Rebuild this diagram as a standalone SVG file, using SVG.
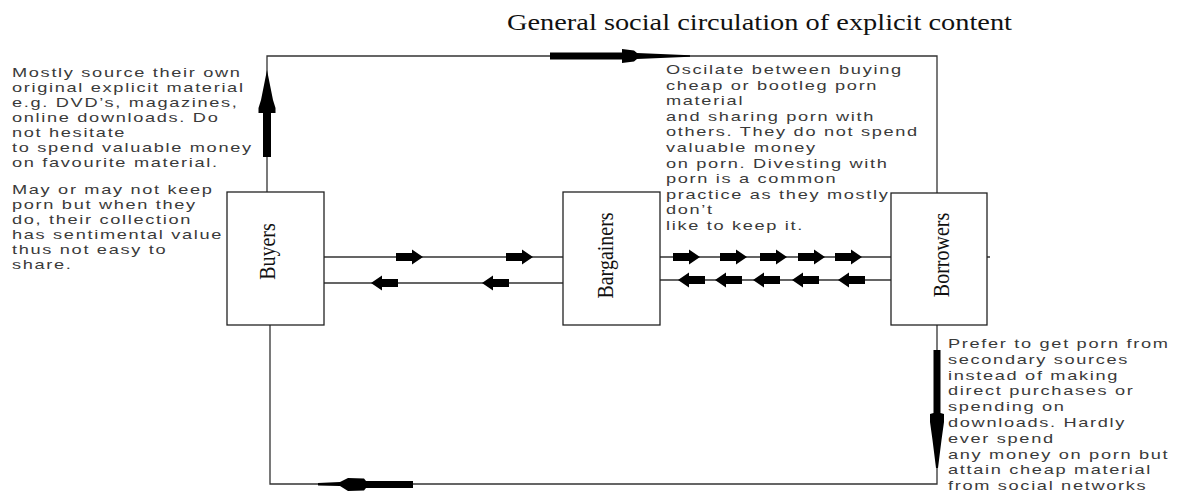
<svg xmlns="http://www.w3.org/2000/svg" width="1181" height="494" viewBox="0 0 1181 494">
<defs>
<style>
.body{font-family:"Liberation Sans",Arial,sans-serif;font-size:13px;letter-spacing:1.2px;fill:#3a3a3a;}
.lbl{font-family:"Liberation Serif","Times New Roman",serif;font-size:20px;fill:#111;text-anchor:middle;}
.title{font-family:"Liberation Serif","Times New Roman",serif;font-size:22.5px;fill:#111;}
.box{fill:#fff;stroke:#222;stroke-width:1.3;}
.ln{fill:none;stroke:#333;stroke-width:1.3;}
.ah{fill:#000;stroke:none;}
</style>
<path id="ar" d="M-27,-4 L-11,-4 L-11,-7.5 L0,0 L-11,7.5 L-11,4 L-27,4 Z"/>
</defs>
<rect width="1181" height="494" fill="#fff"/>
<text class="title" x="507" y="30" textLength="505" lengthAdjust="spacingAndGlyphs">General social circulation of explicit content</text>

<g id="connectors">
<path class="ln" d="M267,192 V56 H937 V193"/>
<path class="ln" d="M270,325 V484 H937 V325"/>
<path class="ln" d="M324,257 H563 M324,283 H563 M660,257 H891 M660,280 H891 M987,257 H990"/>
<path class="ah" d="M550,52.5 H622 V49 L634,50.5 L637,53 L690,55.3 V56.7 L637,59 L634,61.5 L622,63 V59.5 H550 Z"/>
<path class="ah" d="M267,70 L269,80 L273,100 L275.5,108 L275.5,113 L271,113 V157 H263 V113 L258.5,113 L258.5,108 L261,100 L265,80 Z"/>
<path class="ah" d="M933.5,350 H940.5 V413 L944,414 L944,422 L941.5,440 L938,468 H936 L932.5,440 L930,422 L930,414 L933.5,413 Z"/>
<path class="ah" d="M413,481 V488 H366 L364,490.5 L348,491 L340,486 L318,485.5 V483 L340,482 L348,478 L364,478.5 L366,481 Z"/>
<g class="ah">
<use href="#ar" transform="translate(423,257)"/>
<use href="#ar" transform="translate(533,257)"/>
<use href="#ar" transform="translate(371,283) scale(-1,1)"/>
<use href="#ar" transform="translate(482,283) scale(-1,1)"/>
<use href="#ar" transform="translate(700,257)"/>
<use href="#ar" transform="translate(747,257)"/>
<use href="#ar" transform="translate(787,257)"/>
<use href="#ar" transform="translate(825,257)"/>
<use href="#ar" transform="translate(862,257)"/>
<use href="#ar" transform="translate(678,280) scale(-1,1)"/>
<use href="#ar" transform="translate(715,280) scale(-1,1)"/>
<use href="#ar" transform="translate(753,280) scale(-1,1)"/>
<use href="#ar" transform="translate(792,280) scale(-1,1)"/>
<use href="#ar" transform="translate(838,280) scale(-1,1)"/>
</g>
</g>

<g id="buyers">
<rect class="box" x="227" y="192" width="97" height="133"/>
<text class="lbl" transform="translate(275,251.5) scale(1.2,1) rotate(-90)">Buyers</text>
</g>
<g id="bargainers">
<rect class="box" x="563" y="192" width="97" height="133"/>
<text class="lbl" transform="translate(613,255.5) scale(1.2,1) rotate(-90)">Bargainers</text>
</g>
<g id="borrowers">
<rect class="box" x="891" y="193" width="96" height="132"/>
<text class="lbl" transform="translate(949,255) scale(1.2,1) rotate(-90)">Borrowers</text>
</g>

<g id="buyers-note" class="body" transform="translate(12,0) scale(1.4,1)">
<text x="0" y="77">Mostly source their own</text>
<text x="0" y="92">original explicit material</text>
<text x="0" y="107">e.g. DVD’s, magazines,</text>
<text x="0" y="122">online downloads. Do</text>
<text x="0" y="137">not hesitate</text>
<text x="0" y="152">to spend valuable money</text>
<text x="0" y="167">on favourite material.</text>
<text x="0" y="194">May or may not keep</text>
<text x="0" y="209">porn but when they</text>
<text x="0" y="224">do, their collection</text>
<text x="0" y="239">has sentimental value</text>
<text x="0" y="254">thus not easy to</text>
<text x="0" y="269">share.</text>
</g>

<g id="bargainers-note" class="body" transform="translate(666,0) scale(1.4,1)">
<text x="0" y="74">Oscilate between buying</text>
<text x="0" y="89.6">cheap or bootleg porn</text>
<text x="0" y="105.2">material</text>
<text x="0" y="120.8">and sharing porn with</text>
<text x="0" y="136.4">others. They do not spend</text>
<text x="0" y="152">valuable money</text>
<text x="0" y="167.6">on porn. Divesting with</text>
<text x="0" y="183.2">porn is a common</text>
<text x="0" y="198.8">practice as they mostly</text>
<text x="0" y="214.4">don’t</text>
<text x="0" y="230">like to keep it.</text>
</g>

<g id="borrowers-note" class="body" transform="translate(948,0) scale(1.4,1)">
<text x="0" y="348">Prefer to get porn from</text>
<text x="0" y="363.8">secondary sources</text>
<text x="0" y="379.6">instead of making</text>
<text x="0" y="395.4">direct purchases or</text>
<text x="0" y="411.2">spending on</text>
<text x="0" y="427">downloads. Hardly</text>
<text x="0" y="442.8">ever spend</text>
<text x="0" y="458.6">any money on porn but</text>
<text x="0" y="474.4">attain cheap material</text>
<text x="0" y="490.2">from social networks</text>
</g>
</svg>
